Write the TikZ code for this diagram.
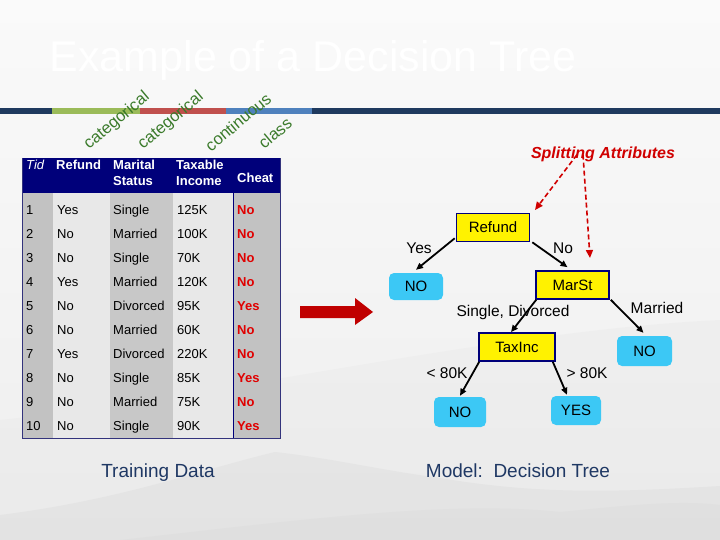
\documentclass[tikz,border=0pt]{standalone}
\usepackage{fontspec}
\setmainfont{Liberation Sans}
\usetikzlibrary{arrows.meta}
\definecolor{barnavy}{HTML}{1F3A5F}
\definecolor{hdr}{HTML}{00007A}
\definecolor{bgreen}{HTML}{9BBB59}
\definecolor{bred}{HTML}{C0504D}
\definecolor{bblue}{HTML}{4F81BD}
\definecolor{lblgreen}{HTML}{3A7A2A}
\definecolor{colgray}{HTML}{C2C2C2}
\definecolor{collight}{HTML}{E8E8E8}
\definecolor{chred}{HTML}{E00000}
\definecolor{leafblue}{HTML}{3CC8F5}
\definecolor{capnavy}{HTML}{1F3864}
\definecolor{bigred}{HTML}{C00000}
\definecolor{splred}{HTML}{D00000}
\definecolor{bgtop}{HTML}{FAFAFA}
\definecolor{bgbot}{HTML}{EEEEEE}
\definecolor{mount}{HTML}{D8D8D8}
\tikzset{
  cell/.style={anchor=base west, inner sep=0pt, font=\fontsize{13}{13}\selectfont},
  hcell/.style={anchor=base west, inner sep=0pt, text=white, font=\bfseries\fontsize{13}{15}\selectfont},
  attr/.style={rotate=40, text=lblgreen, inner sep=0pt, font=\fontsize{16.5}{16.5}\selectfont},
  dec/.style={draw=hdr, line width=1.6pt, fill=yellow, minimum width=73pt, minimum height=28pt, inner sep=0pt, font=\fontsize{15}{15}\selectfont},
  leaf/.style={fill=leafblue, rounded corners=5pt, minimum height=28pt, inner sep=0pt, font=\fontsize{15}{15}\selectfont},
  elabel/.style={inner sep=0pt, font=\fontsize{15.5}{15.5}\selectfont},
  edge/.style={-{Triangle[length=7pt,width=6pt]}, line width=1.8pt, black},
  sdash/.style={-{Triangle[length=8pt,width=7pt]}, splred, line width=1.6pt, dash pattern=on 5pt off 3pt},
  caption/.style={text=capnavy, inner sep=0pt, font=\fontsize{19}{19}\selectfont}
}
\begin{document}
\begin{tikzpicture}[x=1pt,y=-1pt]
\useasboundingbox (0,0) rectangle (720,540);
% background
\shade[top color=bgtop, bottom color=bgbot] (0,0) rectangle (720,540);
\fill[mount, opacity=0.15] (0,540) -- (0,420) .. controls (200,400) and (500,330) .. (720,320) -- (720,540) -- cycle;
\fill[mount, opacity=0.35] (0,540) -- (0,515) .. controls (120,500) and (200,470) .. (275,452)
  .. controls (330,458) and (380,470) .. (440,478) .. controls (540,495) and (620,492) .. (720,486) -- (720,540) -- cycle;
\fill[mount, opacity=0.3] (120,540) .. controls (300,520) and (450,500) .. (560,512)
  .. controls (630,505) and (680,500) .. (720,505) -- (720,540) -- cycle;
% title
\node[text=white, anchor=base, inner sep=0pt, font=\fontsize{43}{45}\selectfont] (title) at (313,72) {Example of a Decision Tree};
% bar
\fill[barnavy] (0,108) rectangle (720,114);
\fill[bgreen] (52,108) rectangle (140,114);
\fill[bred] (140,108) rectangle (226,114);
\fill[bblue] (226,108) rectangle (312,114);
% attribute labels
\node[attr] (a1) at (117,121) {categorical};
\node[attr] (a2) at (171,121) {categorical};
\node[attr] (a3) at (238,122) {continuous};
\node[attr] (a4) at (275,133) {class};
% table
\fill[colgray] (22,192) rectangle (53,438);
\fill[collight] (53,192) rectangle (110,438);
\fill[colgray!90!white] (110,192) rectangle (173,438);
\fill[collight] (173,192) rectangle (233,438);
\fill[colgray] (233,192) rectangle (280,438);
\fill[hdr] (22,158) rectangle (280,193);
\draw[hdr!60!gray, line width=0.6pt] (22,158) -- (22,438) -- (280,438) -- (280,158);
\draw[hdr, line width=1pt] (233,193) -- (233,438);
\node[hcell, font=\itshape\fontsize{13}{15}\selectfont] (hT) at (26,169.5) {Tid};
\node[hcell] (hR) at (56,169.5) {Refund};
\node[hcell] (hM1) at (113,169.5) {Marital};
\node[hcell] (hM2) at (113,185.5) {Status};
\node[hcell] (hI1) at (176,169.5) {Taxable};
\node[hcell] (hI2) at (176,185.5) {Income};
\node[hcell] (hC) at (237,182.5) {Cheat};
\foreach \i/\a/\b/\c/\d in {1/Yes/Single/125K/No, 2/No/Married/100K/No, 3/No/Single/70K/No,
  4/Yes/Married/120K/No, 5/No/Divorced/95K/Yes, 6/No/Married/60K/No, 7/Yes/Divorced/220K/No,
  8/No/Single/85K/Yes, 9/No/Married/75K/No, 10/No/Single/90K/Yes} {
  \node[cell] (tid\i) at (26,{190.6+24*\i}) {\i};
  \node[cell] (ref\i) at (57,{190.6+24*\i}) {\a};
  \node[cell] (mar\i) at (113,{190.6+24*\i}) {\b};
  \node[cell] (tax\i) at (177,{190.6+24*\i}) {\c};
  \node[cell, text=chred, font=\bfseries\fontsize{13}{13}\selectfont] (ch\i) at (237,{190.6+24*\i}) {\d};
}
% big arrow
\fill[bigred] (300,306) -- (355,306) -- (355,298) -- (373,312) -- (355,325) -- (355,318) -- (300,318) -- cycle;
% tree
\node[text=splred, inner sep=0pt, font=\bfseries\itshape\fontsize{16}{16}\selectfont] (spl) at (603,154) {Splitting Attributes};
\node[dec] (refund) at (493,227.5) {Refund};
\node[dec] (marst) at (572.5,285) {MarSt};
\node[dec, minimum width=76pt] (taxinc) at (517,347) {TaxInc};
\node[leaf, minimum width=54pt, minimum height=27pt] (noL) at (416,286.5) {NO};
\node[leaf, minimum width=55pt, minimum height=30pt] (noM) at (644.5,351) {NO};
\node[leaf, minimum width=52pt, minimum height=30pt] (noT) at (460,412) {NO};
\node[leaf, minimum width=50pt, minimum height=29pt] (yes) at (576,410.5) {YES};
\draw[edge] ([xshift=-1pt,yshift=4pt]refund.south west) -- ([yshift=3pt]noL.north);
\draw[edge] ([xshift=2pt]refund.south east) -- ([xshift=-5pt,yshift=3pt]marst.north);
\draw[edge] ([xshift=1pt]marst.south west) -- ([xshift=-6pt]taxinc.north);
\draw[edge] ([xshift=1pt]marst.south east) -- ([xshift=-1pt,yshift=3pt]noM.north);
\draw[edge] ([xshift=1pt]taxinc.south west) -- ([yshift=1pt]noT.north);
\draw[edge] ([xshift=-3pt]taxinc.south east) -- ([xshift=-9pt,yshift=1pt]yes.north);
\node[elabel] (lYes) at (419,248) {Yes};
\node[elabel] (lNo) at (563,248) {No};
\node[elabel] (lSD) at (513,312) {Single, Divorced};
\node[elabel] (lMar) at (657,308) {Married};
\node[elabel] (lLt) at (447,373) {< 80K};
\node[elabel] (lGt) at (587,373) {> 80K};
\coordinate (d1) at (535,210);
\coordinate (d2) at (590,258);
\draw[sdash] ([xshift=-26pt,yshift=7pt]spl.south) -- (d1);
\draw[sdash] ([xshift=-20pt,yshift=7pt]spl.south) -- (d2);
% captions
\node[caption] (cap1) at (158,473) {Training Data};
\node[caption] (cap2) at (518,471) {Model:\ \ Decision Tree};
\end{tikzpicture}
\end{document}
